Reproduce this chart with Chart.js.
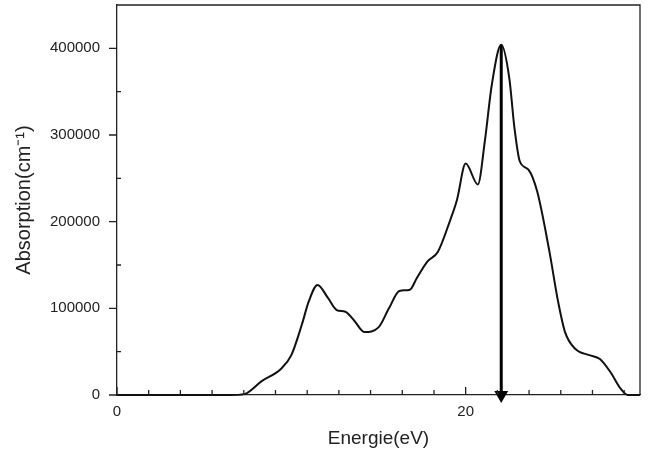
<!DOCTYPE html>
<html>
<head>
<meta charset="utf-8">
<script src="https://cdn.jsdelivr.net/npm/chart.js@4"></script>
<style>
  html, body { margin: 0; padding: 0; background: #fff; }
  #wrap { width: 648px; height: 454px; }
</style>
</head>
<body>
<div id="wrap"><canvas id="absChart"></canvas></div>
<script>
// data
const energy = [0, 2, 4, 6, 6.5, 7.3, 8.3, 9.4, 10.0, 10.6, 11.0, 11.5, 12.1, 12.6, 13.1, 13.6, 14.2, 15.0, 15.6, 16.2, 16.8, 17.2, 17.8, 18.4, 19.1, 19.5, 20.0, 20.7, 21.1, 21.5, 22.04, 22.5, 22.8, 23.1, 23.6, 24.1, 24.8, 25.3, 25.7, 26.3, 27.1, 27.7, 28.3, 28.9, 29.3, 30];
const absorption = [0, 0, 0, 0, 0, 1000, 16000, 30000, 46000, 81000, 108000, 127000, 112000, 98000, 96000, 86000, 72600, 78000, 100000, 120000, 121500, 135000, 154000, 165000, 201000, 225000, 267000, 243000, 293000, 358000, 404000, 366000, 308000, 270000, 260000, 235000, 166000, 108000, 72600, 53000, 46000, 41500, 26500, 7000, 0, 0];

// arrow from the main peak down to the axis
const arrowX = [22.04, 22.04];
const arrowY = [404000, 0];

const xTickLabels = [0, 20];
const xMinorStep = 20 / 11;
const yTickLabels = [0, 100000, 200000, 300000, 400000];
const yMinorTicks = [50000, 150000, 250000, 350000];

const axisColor = '#222';
const textColor = '#222';

// frame + inward/outward ticks like the original plot
const frameTicks = {
  id: 'frameTicks',
  afterDraw(chart) {
    const {ctx, chartArea: {left, right, top, bottom}, scales: {x, y}} = chart;
    ctx.save();
    ctx.strokeStyle = axisColor;
    ctx.lineWidth = 1.3;
    ctx.beginPath();
    ctx.moveTo(left, top);
    ctx.lineTo(right, top);
    ctx.lineTo(right, bottom);
    ctx.stroke();

    ctx.beginPath();
    // x ticks pointing up into the plot
    for (let v = 0; v <= x.max + 1e-6; v += xMinorStep) {
      const px = x.getPixelForValue(v);
      ctx.moveTo(px, bottom);
      ctx.lineTo(px, bottom - 5);
    }
    xTickLabels.forEach(v => {
      const px = x.getPixelForValue(v);
      ctx.moveTo(px, bottom);
      ctx.lineTo(px, bottom - 8);
    });
    // y major ticks outward, minor inward
    yTickLabels.forEach(v => {
      const py = y.getPixelForValue(v);
      ctx.moveTo(left, py);
      ctx.lineTo(left - 8, py);
    });
    yMinorTicks.forEach(v => {
      const py = y.getPixelForValue(v);
      ctx.moveTo(left, py);
      ctx.lineTo(left + 4, py);
    });
    ctx.stroke();
    ctx.restore();
  }
};

const data = {
  datasets: [{
    data: energy.map((e, i) => ({x: e, y: absorption[i]})),
    borderColor: '#111',
    borderWidth: 2,
    pointRadius: 0,
    cubicInterpolationMode: 'monotone',
    fill: false
  }, {
    data: arrowX.map((e, i) => ({x: e, y: arrowY[i]})),
    borderColor: '#000',
    borderWidth: 3,
    pointStyle: 'triangle',
    pointRadius: [0, 5],
    pointRotation: 180,
    pointBackgroundColor: '#000',
    pointBorderColor: '#000',
    fill: false
  }]
};

const config = {
  type: 'line',
  data,
  options: {
    responsive: true,
    maintainAspectRatio: false,
    animation: false,
    clip: false,
    layout: { autoPadding: false, padding: { left: 0, right: 8, top: 5, bottom: 0 } },
    plugins: {
      legend: { display: false },
      tooltip: { enabled: false }
    },
    scales: {
      x: {
        type: 'linear',
        min: 0,
        max: 30,
        afterBuildTicks: (scale) => { scale.ticks = xTickLabels.map(v => ({value: v})); },
        afterFit: (scale) => { scale.height = 59; scale.paddingLeft = 0; scale.paddingRight = 0; },
        grid: { display: false },
        border: { display: true, color: axisColor, width: 1.3 },
        ticks: { color: textColor, font: { family: 'Liberation Sans', size: 15 }, padding: 0, maxRotation: 0 },
        title: {
          display: true,
          text: 'Energie(eV)',
          color: textColor,
          font: { family: 'Liberation Sans', size: 19 },
          padding: { top: 6 }
        }
      },
      y: {
        type: 'linear',
        min: 0,
        max: 450000,
        afterBuildTicks: (scale) => { scale.ticks = yTickLabels.map(v => ({value: v})); },
        afterFit: (scale) => { scale.width = 117; scale.paddingTop = 0; scale.paddingBottom = 0; },
        grid: { display: false },
        border: { display: true, color: axisColor, width: 1.3 },
        ticks: {
          color: textColor,
          font: { family: 'Liberation Sans', size: 15 },
          padding: 9,
          callback: (v) => String(v)
        },
        title: {
          display: true,
          text: 'Absorption(cm\u207B\u00B9)',
          color: textColor,
          font: { family: 'Liberation Sans', size: 20 },
          padding: { top: 12, bottom: 0 }
        }
      }
    }
  },
  plugins: [frameTicks]
};

new Chart(document.getElementById('absChart'), config);
</script>
</body>
</html>
